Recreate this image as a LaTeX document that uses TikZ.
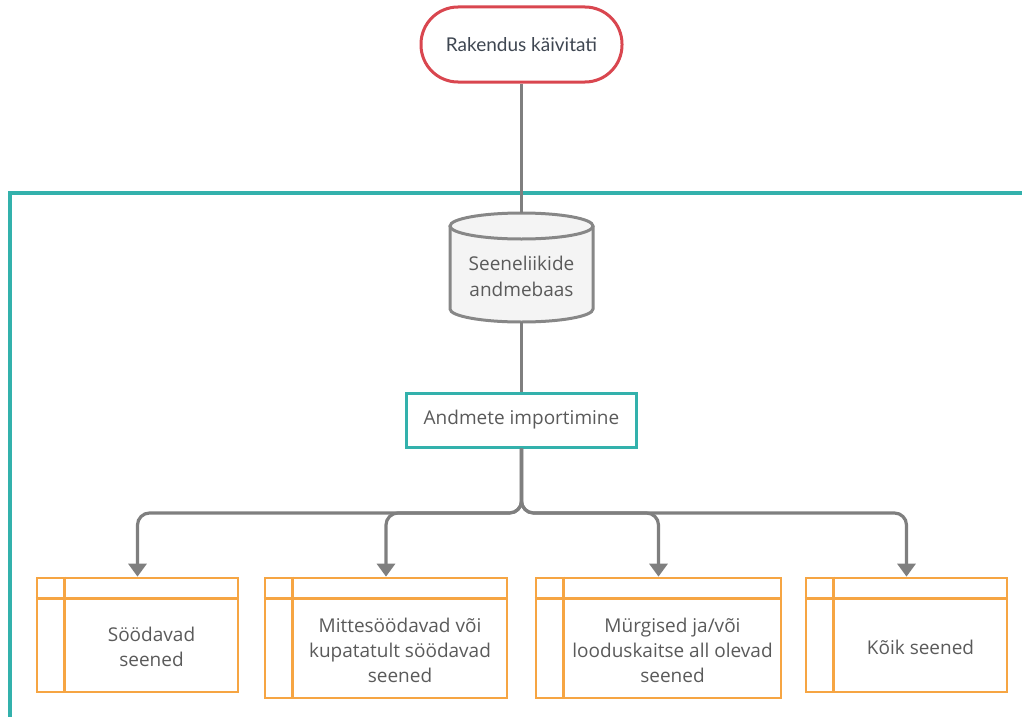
\documentclass[tikz,border=0pt]{standalone}
\usepackage{fontspec}
\setmainfont{Open Sans}
\newfontfamily\latofont{Lato}
\usetikzlibrary{arrows.meta}
\definecolor{redc}{HTML}{D9464F}
\definecolor{tealc}{HTML}{33B1AC}
\definecolor{orangec}{HTML}{F6A543}
\definecolor{connc}{HTML}{7F7F7F}
\definecolor{txt}{HTML}{5A5A5A}
\definecolor{toptxt}{HTML}{3E4651}
\definecolor{dbfill}{HTML}{F4F4F4}
\definecolor{dbline}{HTML}{878787}
\begin{document}
\begin{tikzpicture}[x=1pt,y=-1pt,
 conn/.style={draw=connc, line width=3.2pt, rounded corners=12pt},
 arr/.style={-{Triangle[width=18pt,length=13pt]}},
 startbox/.style={draw=redc, line width=3pt, rounded corners=37pt, minimum width=201pt, minimum height=75pt, inner sep=0pt, text=toptxt, font=\latofont\fontsize{19}{24}\selectfont},
 procbox/.style={draw=tealc, line width=3pt, minimum width=230pt, minimum height=54pt, inner sep=0pt, text=txt, font=\fontsize{19}{24}\selectfont},
 catbox/.style={draw=orangec, line width=2.7pt, inner sep=0pt},
 catline/.style={draw=orangec, line width=2.7pt},
 cattext/.style={text=txt, font=\fontsize{19}{25}\selectfont, align=center, inner sep=0pt},
 dbtext/.style={text=txt, font=\fontsize{19}{26}\selectfont, align=center, inner sep=0pt},
 frame/.style={draw=tealc, line width=3.2pt},
 ]
\useasboundingbox (0,0) rectangle (1022,717);

% container frame
\draw[frame] (1022,193) -- (10,193) -- (10,717);

% start node
\node[startbox] (start) at (521.5,44.5) {Rakendus käivitati};

% database cylinder
\fill[dbfill] (450,226) -- (450,309) arc[start angle=180, end angle=360, x radius=71.5pt, y radius=13pt] -- (593,226) arc[start angle=0, end angle=180, x radius=71.5pt, y radius=13pt] -- cycle;
\draw[dbline, line width=3pt] (450,226) -- (450,309) arc[start angle=180, end angle=360, x radius=71.5pt, y radius=13pt] -- (593,226);
\draw[dbline, line width=3pt] (521.5,226) ellipse[x radius=71.5pt, y radius=13pt];
\node[minimum width=143pt, minimum height=109pt, inner sep=0pt] (db) at (521.5,267.5) {};
\node[dbtext] (dbt) at (521.5,276) {Seeneliikide\\andmebaas};

% process node
\node[procbox] (imp) at (521.5,420) {Andmete importimine};

% category boxes
\node[catbox, minimum width=201pt, minimum height=114pt] (c1) at (137.5,635) {};
\node[catbox, minimum width=242pt, minimum height=120pt] (c2) at (386,638) {};
\node[catbox, minimum width=245pt, minimum height=120pt] (c3) at (658.5,638) {};
\node[catbox, minimum width=201pt, minimum height=114pt] (c4) at (906.5,635) {};
\foreach \c in {c1,c2,c3,c4}{
  \draw[catline] ([yshift=-22pt]\c.north west) -- ([yshift=-22pt]\c.north east);
  \draw[catline] ([xshift=28.5pt]\c.north west) -- ([xshift=28.5pt]\c.south west);
}
\node[cattext] (t1) at ([shift={(14pt,-12pt)}]c1.center) {Söödavad\\seened};
\node[cattext] (t2) at ([shift={(14pt,-12pt)}]c2.center) {Mittesöödavad või\\kupatatult söödavad\\seened};
\node[cattext] (t3) at ([shift={(14pt,-12pt)}]c3.center) {Mürgised ja/või\\looduskaitse all olevad\\seened};
\node[cattext] (t4) at ([shift={(14pt,-12pt)}]c4.center) {Kõik seened};

% connectors
\draw[conn] (start.south) -- (db.north);
\draw[conn] (db.south) -- (imp.north);
\coordinate (bus) at (521.5,513);
\foreach \c in {c1,c2,c3,c4}{
  \draw[conn, arr] (imp.south) -- (bus) -| (\c.north);
}
\end{tikzpicture}
\end{document}
